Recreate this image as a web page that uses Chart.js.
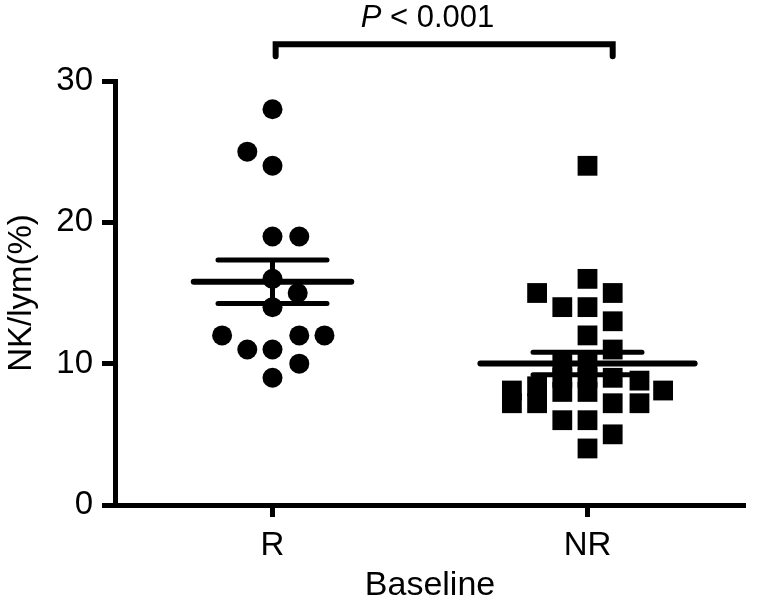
<!DOCTYPE html>
<html>
<head>
<meta charset="utf-8">
<script src="https://cdn.jsdelivr.net/npm/chart.js@4/dist/chart.umd.min.js"></script>
<style>
  html, body { margin: 0; padding: 0; background: #fff; }
  canvas { display: block; }
</style>
</head>
<body>
<canvas id="grafica" width="759" height="607"></canvas>
<script>
// datos
const grupos = ['R', 'NR'];
const valoresR = [28, 25, 24, 19, 19, 16, 15, 14, 12, 12, 12, 11, 11, 10, 9];
const desplazR = [0, -0.08, 0, 0, 0.085, 0, 0.08, 0, -0.16, 0.085, 0.165, -0.08, 0, 0.085, 0];
const valoresNR = [24, 16, 15, 15, 14, 14, 13, 12, 11, 10, 10, 9, 9, 9, 8.8, 8.1, 8.4, 8, 8, 8.1, 7.2, 7.2, 7.2, 7.2, 6, 6, 5, 4];
const desplazNR = [0, 0, -0.16, 0.08, -0.08, 0, 0.08, 0, 0.08, -0.08, 0, -0.08, 0, 0.08, 0.165, -0.24, -0.16, -0.08, 0, 0.24, -0.24, -0.16, 0.08, 0.165, -0.08, 0, 0.08, 0];
const ticksY = [0, 10, 20, 30];
const textoP = ['P', ' < 0.001'];

const FUENTE = "'Liberation Sans', Arial, sans-serif";
Chart.defaults.font.family = FUENTE;
Chart.defaults.color = '#000';

function media(a) { return a.reduce((s, v) => s + v, 0) / a.length; }
function errorEstandar(a) {
  const m = media(a);
  const sd = Math.sqrt(a.reduce((s, v) => s + (v - m) ** 2, 0) / (a.length - 1));
  return sd / Math.sqrt(a.length);
}

// media +/- EEM de cada grupo
const anchoMedia = [0.25, 0.34];
const anchoBarra = 0.173;
const lineasEstad = [];
[valoresR, valoresNR].forEach((vals, i) => {
  const c = i + 1, m = media(vals), e = errorEstandar(vals);
  lineasEstad.push({
    type: 'line', showLine: true, pointRadius: 0, borderColor: '#000', borderWidth: 6,
    borderCapStyle: 'round', order: 2,
    data: [{ x: c - anchoMedia[i], y: m }, { x: c + anchoMedia[i], y: m }]
  });
  lineasEstad.push({
    type: 'line', showLine: true, pointRadius: 0, borderColor: '#000', borderWidth: 5,
    borderCapStyle: 'round', spanGaps: false, order: 2,
    data: [
      { x: c - anchoBarra, y: m + e }, { x: c + anchoBarra, y: m + e }, { x: c, y: null },
      { x: c - anchoBarra, y: m - e }, { x: c + anchoBarra, y: m - e }, { x: c, y: null },
      { x: c, y: m + e }, { x: c, y: m - e }
    ]
  });
});

// corchete y texto de significación
const corchete = {
  id: 'corchete',
  afterDraw(chart) {
    const { ctx, scales: { x, y } } = chart;
    const x1 = x.getPixelForValue(1.01), x2 = x.getPixelForValue(2.08);
    const yArriba = y.getPixelForValue(32.6), yAbajo = y.getPixelForValue(31.75);
    ctx.save();
    ctx.strokeStyle = '#000';
    ctx.lineWidth = 6;
    ctx.lineCap = 'round';
    ctx.lineJoin = 'miter';
    ctx.beginPath();
    ctx.moveTo(x1, yAbajo);
    ctx.lineTo(x1, yArriba);
    ctx.lineTo(x2, yArriba);
    ctx.lineTo(x2, yAbajo);
    ctx.stroke();

    const fIt = 'italic 31px ' + FUENTE, fNor = '31px ' + FUENTE;
    ctx.font = fIt; const w1 = ctx.measureText(textoP[0]).width;
    ctx.font = fNor; const w2 = ctx.measureText(textoP[1]).width;
    let xt = x.getPixelForValue(1.492) - (w1 + w2) / 2;
    const yt = y.getPixelForValue(33.8);
    ctx.fillStyle = '#000';
    ctx.textBaseline = 'alphabetic';
    ctx.textAlign = 'left';
    ctx.font = fIt; ctx.fillText(textoP[0], xt, yt);
    ctx.font = fNor; ctx.fillText(textoP[1], xt + w1, yt);
    ctx.restore();
  }
};

new Chart(document.getElementById('grafica'), {
  type: 'scatter',
  data: {
    datasets: [
      {
        label: 'R',
        data: valoresR.map((v, i) => ({ x: 1 + desplazR[i], y: v })),
        pointStyle: 'circle', pointRadius: 10, backgroundColor: '#000', borderWidth: 0, order: 1
      },
      {
        label: 'NR',
        data: valoresNR.map((v, i) => ({ x: 2 + desplazNR[i], y: v })),
        pointStyle: 'rect', pointRadius: 14, backgroundColor: '#000', borderWidth: 0, order: 1
      },
      ...lineasEstad
    ]
  },
  options: {
    responsive: false,
    animation: false,
    layout: { padding: { top: 81, right: 9, bottom: 0, left: 0 } },
    plugins: {
      legend: { display: false },
      tooltip: { enabled: false }
    },
    scales: {
      x: {
        type: 'linear', min: 0.5, max: 2.5,
        afterBuildTicks(s) { s.ticks = grupos.map((g, i) => ({ value: i + 1 })); },
        ticks: { callback: (v, i) => grupos[i], font: { size: 33 }, padding: 9, color: '#000' },
        grid: { drawOnChartArea: false, tickLength: 12, tickWidth: 5, tickColor: '#000' },
        border: { color: '#000', width: 5 },
        title: { display: true, text: 'Baseline', color: '#000', font: { size: 34 }, padding: { top: 0, bottom: 1 } },
        afterFit(s) { s.height = 102; }
      },
      y: {
        min: 0, max: 30,
        afterBuildTicks(s) { s.ticks = ticksY.map(v => ({ value: v })); },
        ticks: { font: { size: 33 }, padding: 9, color: '#000' },
        grid: { drawOnChartArea: false, tickLength: 13, tickWidth: 5, tickColor: '#000' },
        border: { color: '#000', width: 5 },
        title: { display: true, text: 'NK/lym(%)', color: '#000', font: { size: 33 }, padding: { top: 2, bottom: 0 } },
        afterFit(s) { s.width = 115; }
      }
    }
  },
  plugins: [corchete]
});
</script>
</body>
</html>
